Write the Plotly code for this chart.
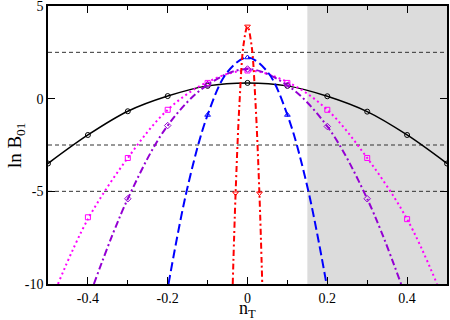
import plotly.graph_objects as go

# values
black_x = [-0.5, -0.4, -0.3, -0.2, -0.1, 0.0, 0.1, 0.2, 0.3, 0.4, 0.5]
black_y = [-3.5, -1.96, -0.68, 0.14, 0.69, 0.85, 0.69, 0.13, -0.7, -1.96, -3.5]

magenta_x = [-0.475, -0.4, -0.3, -0.2, -0.1, 0.0, 0.1, 0.2, 0.3, 0.4, 0.475]
magenta_y = [-10.0, -6.5, -3.2, -0.6, 0.9, 1.52, 0.9, -0.6, -3.2, -6.5, -10.0]
magenta_mx = [-0.4, -0.3, -0.2, -0.1, 0.0, 0.1, 0.2, 0.3, 0.4]
magenta_my = [-6.4, -3.2, -0.6, 0.85, 1.52, 0.85, -0.6, -3.2, -6.5]

violet_x = [-0.385, -0.3, -0.2, -0.1, 0.0, 0.1, 0.2, 0.3, 0.385]
violet_y = [-10.0, -5.4, -1.45, 0.75, 1.6, 0.72, -1.5, -5.4, -10.0]
violet_mx = [-0.3, -0.2, -0.1, 0.0, 0.1, 0.2, 0.3]
violet_my = [-5.4, -1.45, 0.75, 1.6, 0.72, -1.5, -5.4]

blue_x = [-0.198, -0.15, -0.1, -0.05, 0.0, 0.05, 0.1, 0.15, 0.198]
blue_y = [-10.0, -4.75, -0.88, 1.45, 2.22, 1.45, -0.88, -4.75, -10.0]
blue_mx = [-0.1, 0.0, 0.1]
blue_my = [-0.88, 2.22, -0.88]

red_x = [-0.037, -0.03, -0.02, -0.01, 0.0, 0.01, 0.02, 0.03, 0.037]
red_y = [-10.0, -5.2, -0.2, 2.9, 3.9, 2.9, -0.2, -5.2, -10.0]
red_mx = [-0.03, 0.0, 0.03]
red_my = [-5.1, 3.9, -5.1]

hlines = [2.5, -2.5, -5.0]
shade_from = 0.15

x_ticks = [-0.4, -0.2, 0.0, 0.2, 0.4]
x_labels = ['-0.4', '-0.2', '0', '0.2', '0.4']
y_ticks = [5, 0, -5, -10]
y_labels = ['5', '0', '-5', '-10']

SERIF = 'Liberation Serif, Times New Roman, serif'

series = [
    (black_x, black_y, black_x, black_y, 'black', 'solid', 1.5, 'circle-open'),
    (magenta_x, magenta_y, magenta_mx, magenta_my, '#ff00ff', '2px,3px', 2, 'square-open'),
    (violet_x, violet_y, violet_mx, violet_my, '#9400d3', '7px,3px,2px,3px', 2, 'diamond-open'),
    (blue_x, blue_y, blue_mx, blue_my, '#0000ff', '9px,4px', 2, 'triangle-up-open'),
    (red_x, red_y, red_mx, red_my, '#ff0000', '6px,3px,2px,3px', 2, 'triangle-down-open'),
]

fig = go.Figure()
for lx, ly, mx, my, color, dash, width, symbol in series:
    fig.add_trace(go.Scatter(x=lx, y=ly, mode='lines', line_shape='spline',
                             line=dict(color=color, dash=dash, width=width),
                             hoverinfo='skip', showlegend=False))
    fig.add_trace(go.Scatter(x=mx, y=my, mode='markers',
                             marker=dict(symbol=symbol, size=5, color=color,
                                         line=dict(width=1, color=color)),
                             showlegend=False))

fig.add_shape(type='rect', xref='x', yref='y', x0=shade_from, x1=0.5, y0=-10, y1=5,
              fillcolor='#dcdcdc', line_width=0, layer='below')
for h in hlines:
    fig.add_shape(type='line', xref='x', yref='y', x0=-0.5, x1=0.5, y0=h, y1=h,
                  line=dict(color='#333333', width=1, dash='4px,3px'), layer='below')

fig.add_annotation(text='n<sub>T</sub>', xref='paper', yref='paper', x=0.5, y=-0.042,
                   xanchor='center', yanchor='top', showarrow=False,
                   font=dict(family=SERIF, size=18, color='black'))
fig.add_annotation(text='ln B<sub>01</sub>', xref='paper', yref='paper', x=-0.08, y=0.5,
                   xanchor='center', yanchor='middle', textangle=-90, showarrow=False,
                   font=dict(family=SERIF, size=19, color='black'))

axis_common = dict(showgrid=False, zeroline=False, showline=True, linecolor='black',
                   linewidth=1.5, mirror='ticks', ticks='inside', ticklen=7,
                   tickcolor='black', tickwidth=1, automargin=False,
                   ticklabeloverflow='allow',
                   tickfont=dict(family=SERIF, size=14, color='black'))
fig.update_xaxes(range=[-0.5, 0.5], tickvals=x_ticks, ticktext=x_labels,
                 minor=dict(tickvals=[-0.3, -0.1, 0.1, 0.3], ticks='inside', ticklen=4,
                            tickcolor='black'),
                 **axis_common)
fig.update_yaxes(range=[-10, 5], tickvals=y_ticks, ticktext=y_labels, **axis_common)

fig.update_layout(width=450, height=320, margin=dict(l=48, r=3, t=6, b=36),
                  plot_bgcolor='white', paper_bgcolor='white')
# drop the page's default body margin so the figure sits at the window's corner
fig.write_html('out.html', config={'displayModeBar': False},
               post_script="document.body.style.margin='0';")
